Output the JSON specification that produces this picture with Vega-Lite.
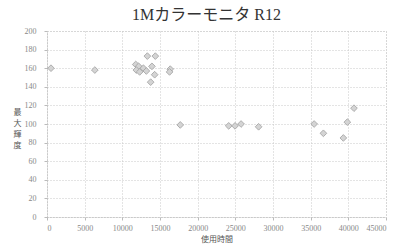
{
  "$schema": "https://vega.github.io/schema/vega-lite/v6.json",
  "autosize": "none",
  "width": 339,
  "height": 186,
  "padding": {"left": 47, "top": 31, "right": 14, "bottom": 30},
  "background": "white",
  "title": {
    "text": "1Mカラーモニタ  R12",
    "font": "Liberation Serif, Noto Sans CJK JP",
    "fontSize": 16,
    "fontWeight": "normal",
    "color": "#333",
    "offset": 4,
    "dx": -10,
    "anchor": "middle"
  },
  "config": {
    "view": {"stroke": "#ccc", "strokeDash": [1, 2]},
    "axis": {
      "gridColor": "#c8c8c8",
      "gridDash": [1, 2],
      "gridWidth": 1,
      "domainColor": "#bbb",
      "domainDash": [1, 2],
      "tickColor": "#bbb",
      "tickSize": 3,
      "labelColor": "#888",
      "labelFont": "Liberation Serif",
      "labelFontSize": 8,
      "titleColor": "#555",
      "titleFont": "Noto Sans CJK JP",
      "titleFontSize": 8,
      "titleFontWeight": "normal"
    }
  },
  "data": {
    "values": [
      {"hours": 530, "lum": 160},
      {"hours": 6350, "lum": 158},
      {"hours": 13320, "lum": 173},
      {"hours": 14380, "lum": 173},
      {"hours": 11780, "lum": 164},
      {"hours": 12170, "lum": 162},
      {"hours": 11860, "lum": 158},
      {"hours": 12300, "lum": 156},
      {"hours": 12800, "lum": 160},
      {"hours": 13190, "lum": 157},
      {"hours": 13930, "lum": 162},
      {"hours": 14290, "lum": 153},
      {"hours": 13760, "lum": 145},
      {"hours": 16360, "lum": 159},
      {"hours": 16270, "lum": 156},
      {"hours": 17690, "lum": 99},
      {"hours": 24120, "lum": 98},
      {"hours": 24960, "lum": 98},
      {"hours": 25760, "lum": 100},
      {"hours": 28090, "lum": 97},
      {"hours": 35460, "lum": 100},
      {"hours": 36690, "lum": 90},
      {"hours": 39340, "lum": 85},
      {"hours": 39870, "lum": 102},
      {"hours": 40750, "lum": 117}
    ]
  },
  "mark": {"type": "point", "shape": "diamond", "filled": true, "fill": "#d4d4d4", "stroke": "#a0a0a0", "strokeWidth": 0.8, "size": 45, "opacity": 1},
  "encoding": {
    "x": {
      "field": "hours", "type": "quantitative",
      "scale": {"domain": [0, 45000], "nice": false},
      "axis": {"values": [0, 5000, 10000, 15000, 20000, 25000, 30000, 35000, 40000, 45000], "format": "d", "title": "使用時間", "titlePadding": 3, "labelPadding": 4}
    },
    "y": {
      "field": "lum", "type": "quantitative",
      "scale": {"domain": [0, 200], "nice": false},
      "axis": {"values": [0, 20, 40, 60, 80, 100, 120, 140, 160, 180, 200], "title": ["最", "大", "輝", "度"], "titleAngle": 0, "titleX": -30, "titleY": 77, "titleBaseline": "top", "titleLineHeight": 11, "labelPadding": 8}
    }
  }
}
